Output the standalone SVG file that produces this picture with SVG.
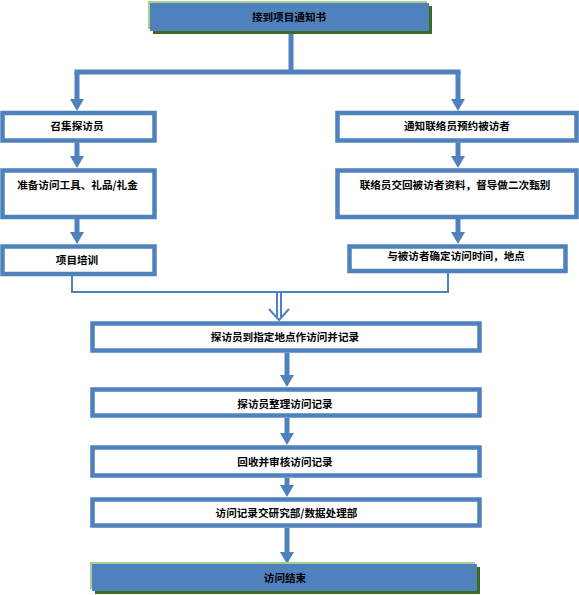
<svg xmlns="http://www.w3.org/2000/svg" width="579" height="595" viewBox="0 0 579 595">
<style>
.box{fill:#FFFFFF;stroke:#4F81BD;stroke-width:4.5}
.blue{fill:#4F81BD}
.lg{fill:#A9CF8E}
.dg{fill:#3E6B26}
.t{font-family:"Noto Sans CJK SC","Noto Sans CJK TC",sans-serif;font-size:10.6px;font-weight:bold;fill:#000000;text-anchor:middle}
.thick{fill:none;stroke:#4F81BD;stroke-width:5}
.thin{fill:none;stroke:#4F81BD;stroke-width:2}
</style>
<defs>
<marker id="ah" viewBox="0 0 12 14" refX="0" refY="7" markerWidth="12" markerHeight="14" markerUnits="userSpaceOnUse" orient="auto">
<path d="M0,0 L12,7 L0,14 z" fill="#4F81BD"/>
</marker>
</defs>
<rect width="579" height="595" fill="#FFFFFF"/>
<g id="connectors">
<path class="thick" d="M291,31 V72"/>
<path class="thick" d="M74.5,72 H460.5"/>
<path class="thick" d="M77,72 V99" marker-end="url(#ah)"/>
<path class="thick" d="M458,72 V99" marker-end="url(#ah)"/>
<path class="thick" d="M77,142.5 V156" marker-end="url(#ah)"/>
<path class="thick" d="M77,219 V232" marker-end="url(#ah)"/>
<path class="thick" d="M458,142.5 V156" marker-end="url(#ah)"/>
<path class="thick" d="M458,219 V232" marker-end="url(#ah)"/>
<path class="thin" d="M72,276 V292 H448 V273"/>
<path class="thin" d="M277,292 V317 M281,292 V317"/>
<path class="thin" d="M269,309 L279,320 L289,309"/>
<path class="thick" d="M287,353 V375" marker-end="url(#ah)"/>
<path class="thick" d="M287,418 V433" marker-end="url(#ah)"/>
<path class="thick" d="M287,478 V485" marker-end="url(#ah)"/>
<path class="thick" d="M287,528 V552" marker-end="url(#ah)"/>
</g>
<g id="n_start">
<rect class="dg" x="153" y="6" width="279" height="28"/>
<rect class="lg" x="148" y="1" width="279" height="28"/>
<rect class="blue" x="150" y="3" width="279" height="28"/>
<text class="t" x="289" y="20.5">接到项目通知书</text>
</g>
<g id="n_recruit">
<rect class="box" x="2.5" y="113" width="152" height="27.5"/>
<text class="t" x="77" y="130">召集探访员</text>
</g>
<g id="n_prepare">
<rect class="box" x="2.5" y="170.5" width="152" height="46.5"/>
<text class="t" x="77.5" y="189">准备访问工具、礼品/礼金</text>
</g>
<g id="n_training">
<rect class="box" x="2.5" y="246.5" width="152" height="27.5"/>
<text class="t" x="77" y="264">项目培训</text>
</g>
<g id="n_notify">
<rect class="box" x="337.5" y="113" width="239" height="27.5"/>
<text class="t" x="457" y="130">通知联络员预约被访者</text>
</g>
<g id="n_return">
<rect class="box" x="337.5" y="170.5" width="239" height="46.5"/>
<text class="t" x="455" y="188.5">联络员交回被访者资料，督导做二次甄别</text>
</g>
<g id="n_confirm">
<rect class="box" x="349.5" y="246.5" width="216" height="24.5"/>
<text class="t" x="456" y="259.5">与被访者确定访问时间，地点</text>
</g>
<g id="n_visit">
<rect class="box" x="92.5" y="323.5" width="387" height="27"/>
<text class="t" x="285" y="341">探访员到指定地点作访问并记录</text>
</g>
<g id="n_organize">
<rect class="box" x="92.5" y="389.5" width="387" height="26"/>
<text class="t" x="285" y="407.5">探访员整理访问记录</text>
</g>
<g id="n_review">
<rect class="box" x="92.5" y="447.5" width="387" height="28"/>
<text class="t" x="285" y="465.5">回收并审核访问记录</text>
</g>
<g id="n_submit">
<rect class="box" x="92.5" y="499.5" width="387" height="26"/>
<text class="t" x="286.5" y="517">访问记录交研究部/数据处理部</text>
</g>
<g id="n_end">
<rect class="dg" x="95" y="567" width="385" height="27"/>
<rect class="lg" x="90" y="562" width="385" height="27"/>
<rect class="blue" x="92" y="564" width="385" height="27"/>
<text class="t" x="285" y="582">访问结束</text>
</g>
</svg>
